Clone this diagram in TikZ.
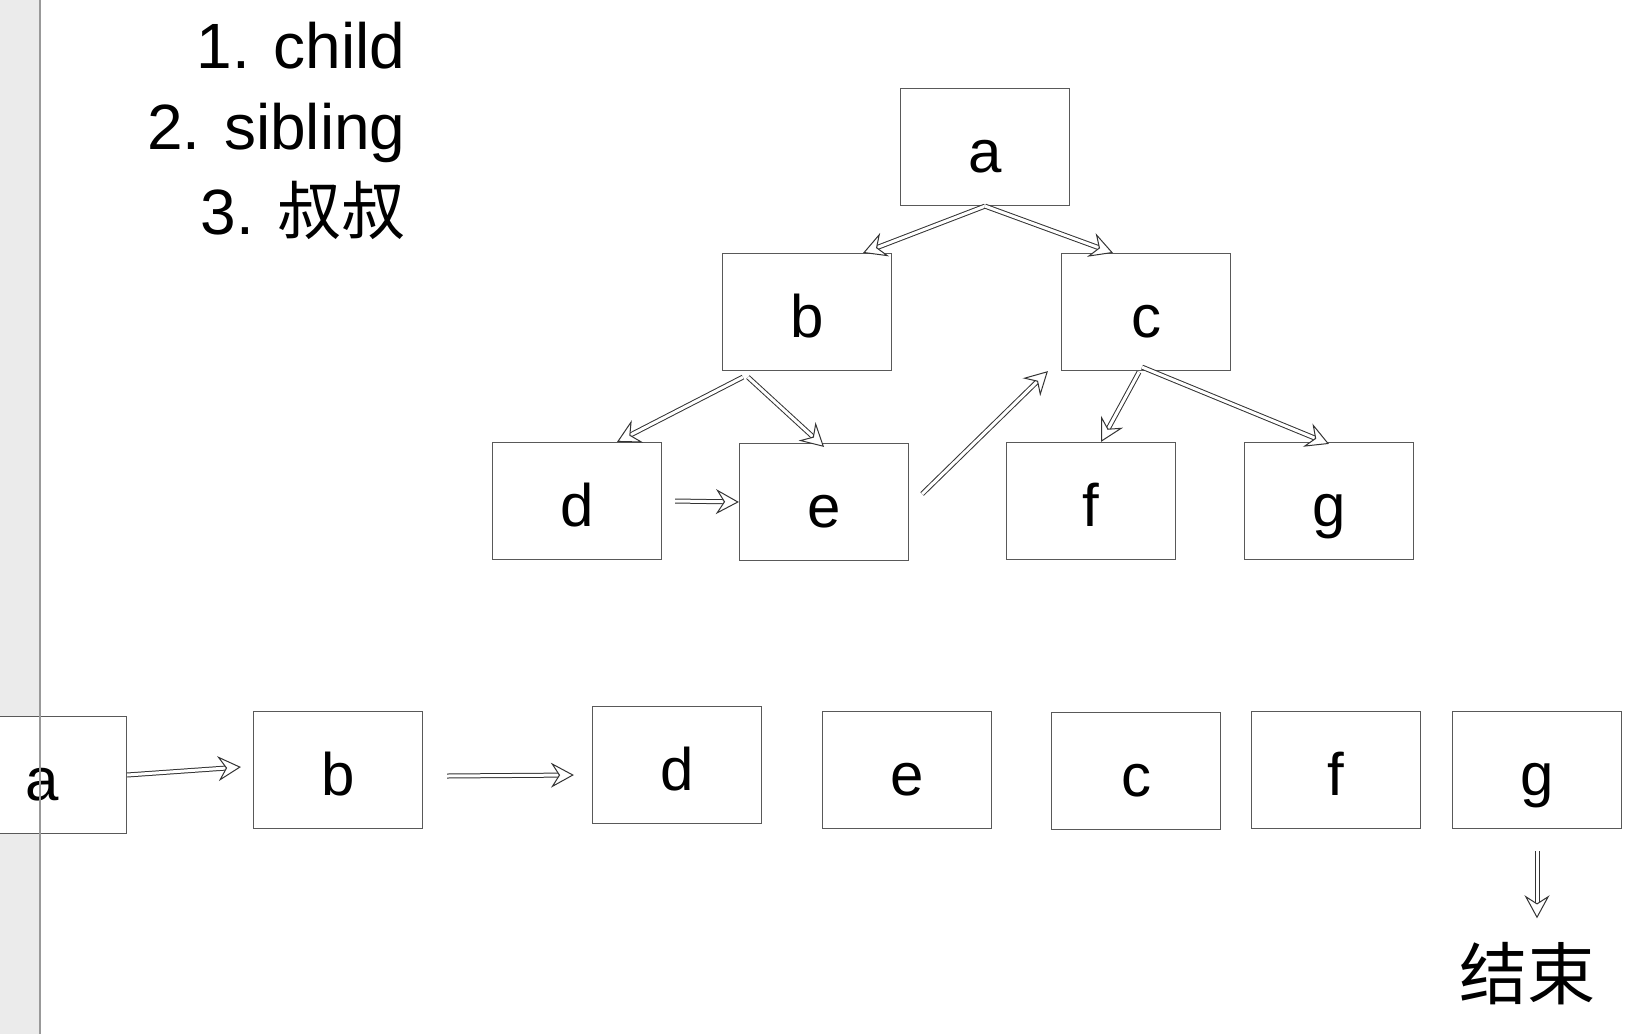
\documentclass[tikz,border=0pt]{standalone}
\usepackage{fontspec}
\setmainfont{Liberation Sans}
\newfontfamily\cjk{Noto Sans CJK SC}
\usepackage{tikz}
\usetikzlibrary{arrows.meta}

\begin{document}
\begin{tikzpicture}[x=0.5pt,y=-0.5pt]
\tikzset{box/.style={draw=black!65,line width=0.6pt,fill=white,minimum width=84.5pt,minimum height=58.5pt,inner sep=0pt,text height=25pt,text depth=0pt,font=\fontsize{30}{36}\selectfont},
hollow/.style={draw=black!80,line width=0.5pt,dash pattern=on 0pt off 5000pt,-{Stealth[open,fill=white,length=11.5pt,width=12.5pt,inset=4pt]},
  preaction={draw=black!80,line width=0.5pt,solid,double=white,double distance=1.5pt,shorten >=7.8pt,-}},
lbl/.style={anchor=base east,inner sep=0pt,font=\fontsize{32}{38}\selectfont}}
\useasboundingbox (0,0) rectangle (1634,1034);
\fill[black!8] (0,0) rectangle (40,1034);

% the tree
\node[box] (a) at (985,147) {a};
\node[box] (b) at (807,312) {b};
\node[box] (c) at (1146,312) {c};
\node[box] (d) at (577,501) {d};
\node[box] (e) at (824,502) {e};
\node[box] (f) at (1091,501) {f};
\node[box] (g) at (1329,501) {g};
\draw[hollow] (a.south) -- ([xshift=-14.5pt]b.north east);
\draw[hollow] (a.south) -- ([xshift=-16.5pt]c.north);
\draw[hollow] ([xshift=10.5pt,yshift=-3pt]b.south west) -- ([xshift=20pt]d.north);
\draw[hollow] ([xshift=13pt,yshift=-3pt]b.south west) -- ([yshift=-2pt]e.north);
\draw[hollow] ([xshift=6.5pt]d.east) -- (e.west);
\draw[hollow] ([xshift=6.5pt,yshift=4pt]e.east) -- ([xshift=-6.5pt]c.south west);
\draw[hollow] ([xshift=-3.5pt,yshift=-0.5pt]c.south) -- ([xshift=5pt]f.north);
\draw[hollow] ([xshift=-2pt,yshift=2pt]c.south) -- ([yshift=-1pt]g.north);

% the order
\node[box] (a2) at (42,775) {a};
\draw[black!40,line width=0.6pt] (40,0) -- (40,1034);
\node[box] (b2) at (338,770) {b};
\node[box] (d2) at (677,765) {d};
\node[box] (e2) at (907,770) {e};
\node[box] (c2) at (1136,771) {c};
\node[box] (f2) at (1336,770) {f};
\node[box] (g2) at (1537,770) {g};
\node[inner sep=0pt,font=\cjk\fontsize{34}{40}\selectfont] (end) at (1527,974) {结束};
\draw[hollow] (a2.east) -- ([xshift=-6pt,yshift=1.5pt]b2.west);
\draw[hollow] ([xshift=12pt,yshift=-3pt]b2.east) -- ([xshift=-9pt,yshift=-5pt]d2.west);
\draw[hollow] ([yshift=-11pt]g2.south) -- ([yshift=12pt]end.north -| g2.south);

\node[lbl] (l1) at (406,68) {1. child};
\node[lbl] (l2) at (406,149) {2. sibling};
\node[lbl] (l3) at (406,234) {3. {\cjk 叔叔}};
\end{tikzpicture}
\end{document}
